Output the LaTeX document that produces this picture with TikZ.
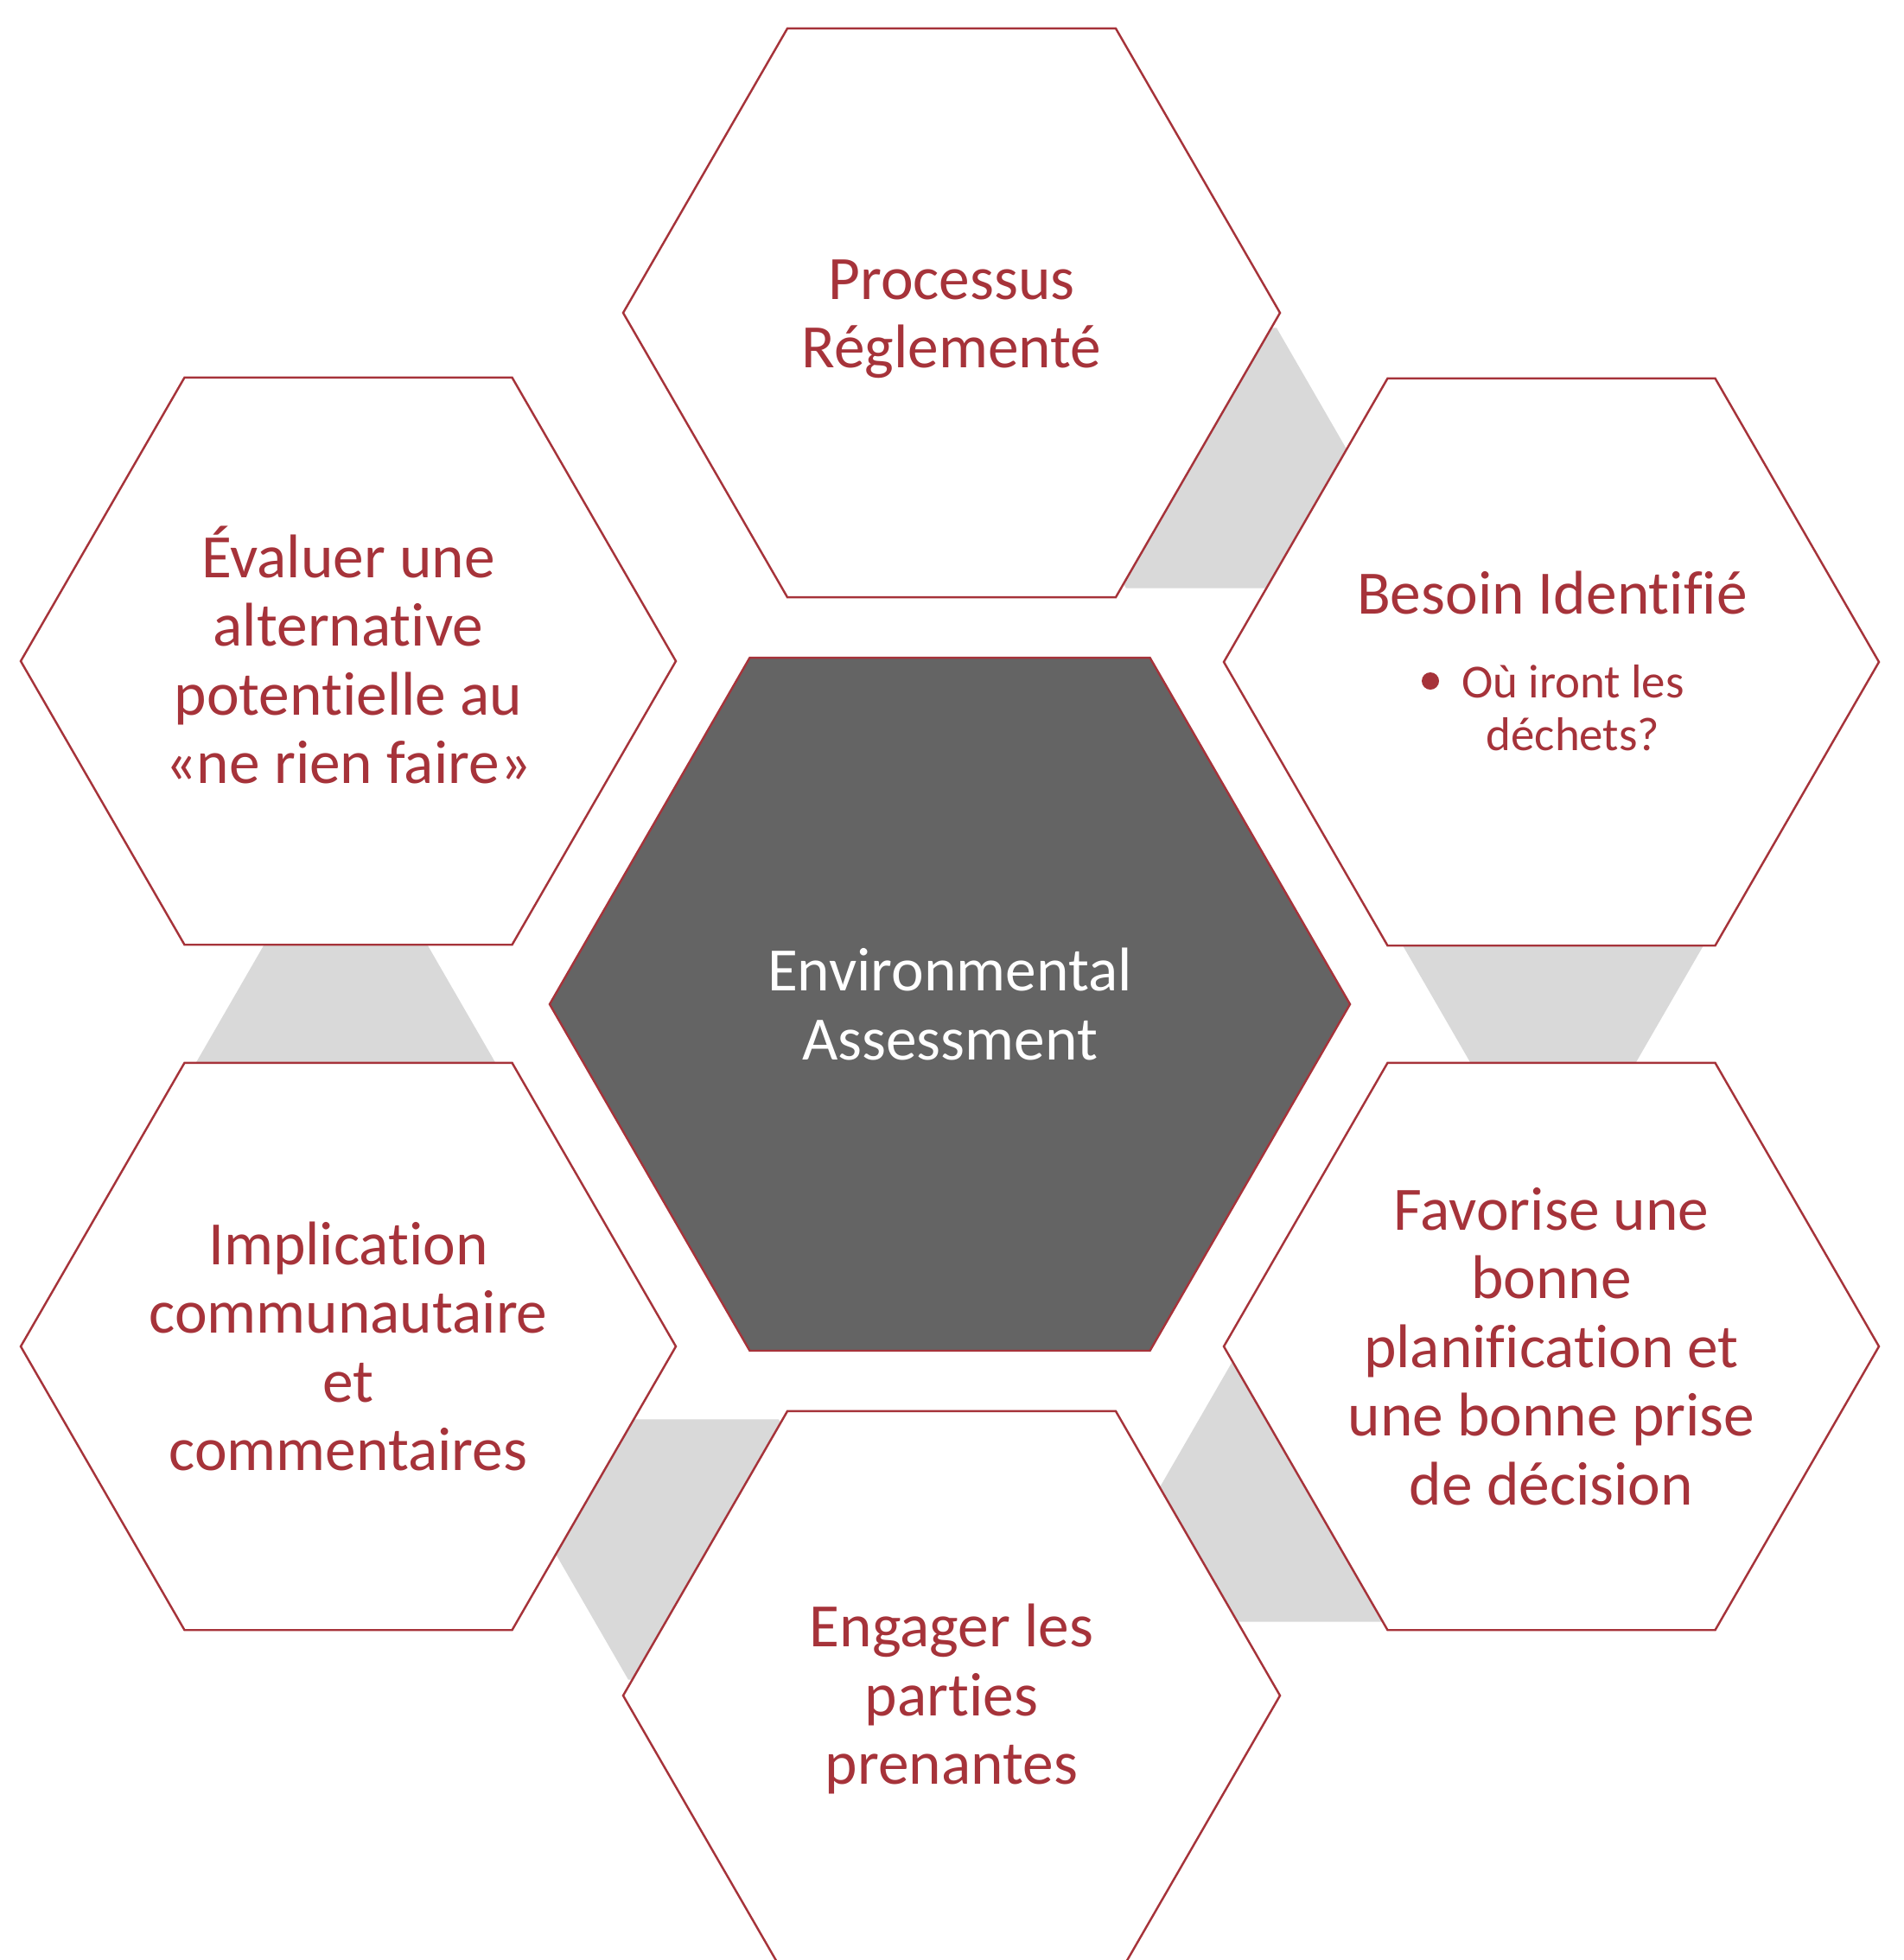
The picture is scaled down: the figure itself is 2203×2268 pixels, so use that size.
\documentclass[tikz,border=0pt]{standalone}
\usepackage{fontspec}
\setmainfont{Carlito}[Ligatures={NoCommon,NoContextual}]
\definecolor{hexred}{RGB}{166,51,58}
\definecolor{hexgray}{RGB}{217,217,217}
\definecolor{hexdark}{RGB}{100,100,100}
\newcommand\hexagonat[3]{\path[#1] (#2) +(0:#3) -- +(60:#3) -- +(120:#3) -- +(180:#3) -- +(240:#3) -- +(300:#3) -- cycle;}
\begin{document}
\begin{tikzpicture}[x=0.01cm,y=-0.01cm,
  hexwhite/.style={draw=hexred,line width=0.7pt,fill=white,line join=miter},
  hexcenter/.style={draw=hexred,line width=0.7pt,fill=hexdark,line join=miter},
  hexconn/.style={fill=hexgray,draw=none},
  txt/.style={text=hexred,font=\fontsize{20.3}{22.6}\selectfont,align=center,inner sep=0pt},
  smalltxt/.style={text=hexred,font=\fontsize{15.6}{17.4}\selectfont,inner sep=0pt},
  ctxt/.style={text=white,font=\fontsize{20.3}{22.6}\selectfont,align=center,inner sep=0pt}]
\useasboundingbox (0,0) rectangle (2203,2268);
\clip (0,0) rectangle (2203,2268);
% centres
\coordinate (cTop) at (1101,362);
\coordinate (cBes) at (1795,766);
\coordinate (cEva) at (403,765);
\coordinate (cMid) at (1099,1162);
\coordinate (cFav) at (1795,1558);
\coordinate (cImp) at (403,1558);
\coordinate (cEng) at (1101,1962);
\coordinate (g1) at (1390,530);
\coordinate (g2) at (1797,1094);
\coordinate (g3) at (1513,1726);
\coordinate (g4) at (814,1793);
\coordinate (g5) at (400,1231);
% grey connecting hexagons
\hexagonat{hexconn}{g1}{174}
\hexagonat{hexconn}{g2}{174}
\hexagonat{hexconn}{g3}{174}
\hexagonat{hexconn}{g4}{174}
\hexagonat{hexconn}{g5}{174}
% outer hexagons
\hexagonat{hexwhite}{cTop}{380}
\hexagonat{hexwhite}{cBes}{379}
\hexagonat{hexwhite}{cEva}{379}
\hexagonat{hexwhite}{cFav}{379}
\hexagonat{hexwhite}{cImp}{379}
\hexagonat{hexwhite}{cEng}{380}
% centre hexagon
\hexagonat{hexcenter}{cMid}{463}
% texts
\node[txt] (tProc) at (1101,369) {Processus\\Réglementé};
\node[txt,anchor=base] (tBes) at (1796,710) {Besoin Identifié};
\node[smalltxt,anchor=base] (tBes1) at (1820,807) {Où iront les};
\node[smalltxt,anchor=base] (tBes2) at (1820,868) {déchets?};
\node[circle,fill=hexred,inner sep=0pt,minimum size=0.2cm] (bul) at (1655,788) {};
\node[txt] (tEva) at (403,758) {Évaluer une\\alternative\\potentielle au\\«ne rien faire»};
\node[ctxt] (tMid) at (cMid) {Environmental\\Assessment};
\node[txt] (tFav) at (cFav) {Favorise une\\bonne\\planification et\\une bonne prise\\de décision};
\node[txt] (tImp) at (cImp) {Implication\\communautaire\\et\\commentaires};
\node[txt] (tEng) at (1101,1966) {Engager les\\parties\\prenantes};
\end{tikzpicture}
\end{document}
